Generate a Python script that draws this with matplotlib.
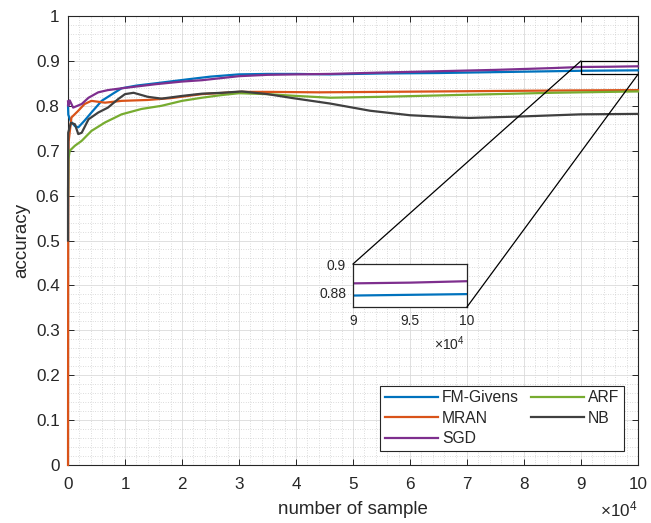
import matplotlib
matplotlib.use("Agg")
import matplotlib.pyplot as plt
from matplotlib.patches import Rectangle, ConnectionPatch
from matplotlib.ticker import AutoMinorLocator

plt.rcParams['font.family'] = ['Liberation Sans', 'DejaVu Sans']
plt.rcParams['mathtext.fontset'] = 'custom'
plt.rcParams['mathtext.rm'] = 'Liberation Sans'
plt.rcParams['mathtext.it'] = 'Liberation Sans'

# number of samples, in units of 1e4
fm_x = [0, 0.005, 0.05, 0.12, 0.18, 0.29, 0.41, 0.59, 0.8, 0.94, 1.2, 1.53, 2.1, 2.5,
        3.0, 3.5, 4.0, 4.6, 5.5, 6.5, 7.5, 8.5, 9.0, 9.5, 10.0]
fm_y = [0.80, 0.78, 0.765, 0.755, 0.752, 0.767, 0.785, 0.811, 0.828, 0.839, 0.845, 0.850,
        0.859, 0.865, 0.870, 0.871, 0.871, 0.870, 0.872, 0.873, 0.875, 0.877, 0.878,
        0.8785, 0.879]

mran_x = [0, 0.003, 0.01, 0.06, 0.18, 0.29, 0.41, 0.65, 0.94, 1.4, 1.8, 2.35, 3.0, 3.5,
          4.4, 5.5, 6.5, 7.5, 8.5, 10.0]
mran_y = [0.0, 0.55, 0.72, 0.774, 0.789, 0.804, 0.811, 0.807, 0.811, 0.813, 0.817, 0.826,
          0.831, 0.831, 0.830, 0.831, 0.832, 0.833, 0.834, 0.835]

sgd_x = [0, 0.005, 0.03, 0.09, 0.24, 0.36, 0.53, 0.7, 0.94, 1.53, 2.0, 2.35, 3.0, 3.5,
         4.0, 4.6, 5.5, 6.5, 7.5, 8.5, 9.0, 9.5, 10.0]
sgd_y = [0.81, 0.80, 0.812, 0.796, 0.804, 0.818, 0.830, 0.835, 0.839, 0.848, 0.854, 0.857,
         0.866, 0.869, 0.870, 0.871, 0.874, 0.877, 0.880, 0.884, 0.8865, 0.887, 0.888]

arf_x = [0, 0.005, 0.03, 0.12, 0.24, 0.41, 0.65, 0.94, 1.29, 1.64, 2.0, 2.35, 2.7, 3.0,
         3.5, 4.0, 4.6, 5.5, 6.8, 7.5, 8.5, 10.0]
arf_y = [0.60, 0.68, 0.70, 0.711, 0.722, 0.744, 0.763, 0.781, 0.793, 0.800, 0.811, 0.818,
         0.824, 0.828, 0.826, 0.822, 0.818, 0.820, 0.824, 0.826, 0.829, 0.832]

nb_x = [0, 0.0005, 0.003, 0.05, 0.12, 0.18, 0.24, 0.36, 0.53, 0.7, 0.88, 1.0, 1.15, 1.4,
        1.64, 2.0, 2.35, 2.7, 3.05, 3.5, 3.95, 4.6, 5.3, 6.0, 6.8, 7.05, 7.9, 9.0, 10.0]
nb_y = [0.5, 0.6, 0.74, 0.762, 0.759, 0.737, 0.740, 0.770, 0.785, 0.796, 0.815, 0.826,
        0.829, 0.820, 0.816, 0.822, 0.827, 0.829, 0.832, 0.826, 0.817, 0.805, 0.789, 0.779,
        0.774, 0.773, 0.776, 0.781, 0.782]

series = [
    ("FM-Givens", fm_x, fm_y, "#0072BD"),
    ("MRAN", mran_x, mran_y, "#D95319"),
    ("SGD", sgd_x, sgd_y, "#7E2F8E"),
    ("ARF", arf_x, arf_y, "#77AC30"),
    ("NB", nb_x, nb_y, "#404040"),
]

x_ticks = [0, 1, 2, 3, 4, 5, 6, 7, 8, 9, 10]
y_ticks = [0, 0.1, 0.2, 0.3, 0.4, 0.5, 0.6, 0.7, 0.8, 0.9, 1]

TXT = "#262626"

fig = plt.figure(figsize=(6.51, 5.23), dpi=100)
ax = fig.add_axes([0.1045, 0.1109, 0.8755, 0.8585])

for name, xs, ys, c in series:
    ax.plot(xs, ys, color=c, lw=1.6, label=name, zorder=3, clip_on=False)

ax.set_xlim(0, 10)
ax.set_ylim(0, 1)
ax.set_xticks(x_ticks)
ax.set_yticks(y_ticks)
ax.set_xticklabels([f"{t:g}" for t in x_ticks])
ax.set_yticklabels([f"{t:g}" for t in y_ticks])
ax.xaxis.set_minor_locator(AutoMinorLocator(5))
ax.yaxis.set_minor_locator(AutoMinorLocator(5))
ax.grid(True, which='major', color='#dadada', lw=0.6, zorder=0)
ax.grid(True, which='minor', color='#bdbdbd', lw=0.5, ls=(0, (1, 2.5)), zorder=0)
ax.set_axisbelow(True)
ax.tick_params(which='major', direction='in', length=4, width=0.7, colors=TXT,
               labelsize=12.3, top=True, right=True, pad=6)
ax.tick_params(axis='x', which='major', pad=9)
ax.tick_params(which='minor', length=0)
for s in ax.spines.values():
    s.set_color(TXT)
    s.set_linewidth(0.8)

ax.set_xlabel("number of sample", fontsize=13.5, color=TXT, labelpad=6)
ax.set_ylabel("accuracy", fontsize=13.5, color=TXT, labelpad=4)
ax.text(1.0, -0.1, r"$\times10^{4}$", transform=ax.transAxes, ha='right', va='center',
        fontsize=12.3, color=TXT)

leg = ax.legend(loc='lower right', bbox_to_anchor=(0.9754, 0.031), borderaxespad=0,
                ncol=2, fontsize=11.3, frameon=True, fancybox=False, framealpha=1,
                edgecolor=TXT, handlelength=3.4, handletextpad=0.25, columnspacing=0.75,
                labelspacing=0.35, borderpad=0.3)
leg.get_frame().set_linewidth(0.8)
for t in leg.get_texts():
    t.set_color(TXT)

# zoomed view of the final part
zx0, zx1, zy0, zy1 = 9, 10, 0.87, 0.9
ax.add_patch(Rectangle((zx0, zy0), zx1 - zx0, zy1 - zy0, fill=False, ec='black',
                       lw=0.9, zorder=4))

axins = fig.add_axes([0.5422, 0.413, 0.1751, 0.0822])
for name, xs, ys, c in series:
    axins.plot(xs, ys, color=c, lw=1.6)
axins.set_xlim(zx0, zx1)
axins.set_ylim(zy0, zy1)
axins.set_xticks([9, 9.5, 10])
axins.set_xticklabels(["9", "9.5", "10"])
axins.set_yticks([0.88, 0.9])
axins.set_yticklabels(["0.88", "0.9"])
axins.tick_params(direction='in', length=0, colors=TXT, labelsize=10, pad=5)
for s in axins.spines.values():
    s.set_color(TXT)
    s.set_linewidth(0.9)
axins.text(0.98, -0.86, r"$\times10^{4}$", transform=axins.transAxes, ha='right',
           va='center', fontsize=10, color=TXT)

for (xa, ya), (xb, yb) in [((zx0, zy1), (0, 1)), ((zx1, zy0), (1, 0))]:
    con = ConnectionPatch(xyA=(xa, ya), coordsA='data', axesA=ax,
                          xyB=(xb, yb), coordsB='axes fraction', axesB=axins,
                          color='black', lw=0.9)
    fig.add_artist(con)

fig.savefig("out.png", dpi=100)
